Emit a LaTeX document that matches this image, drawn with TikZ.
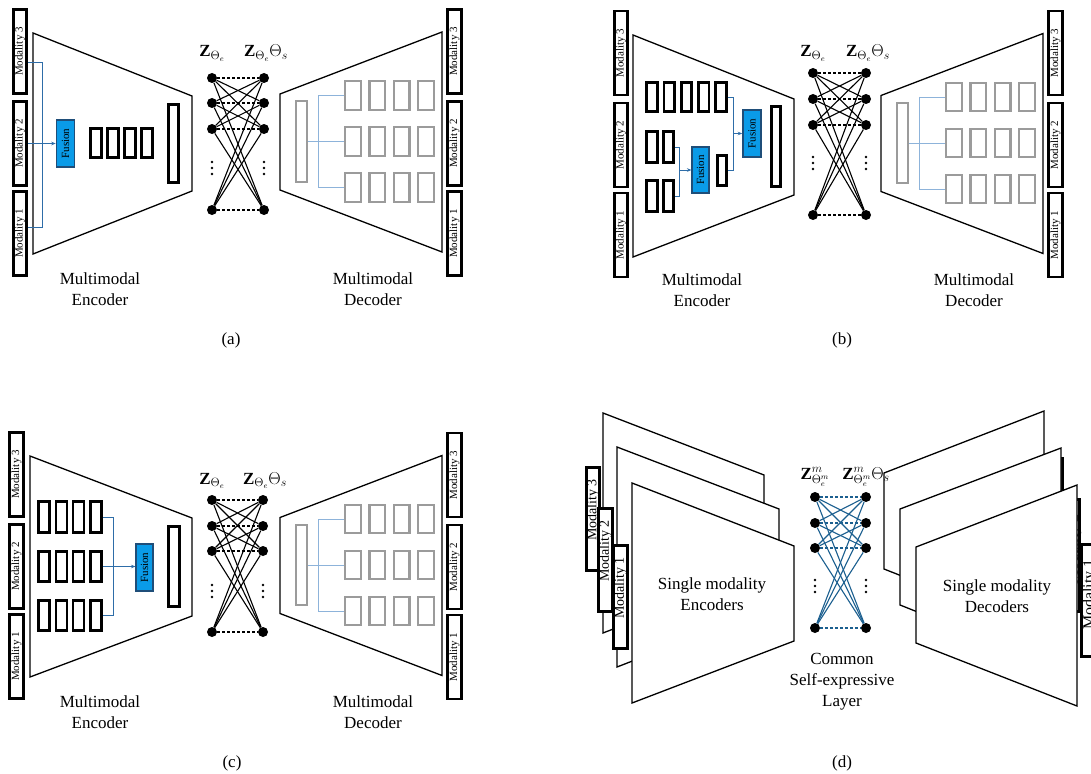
\documentclass[tikz,border=0pt]{standalone}
\usepackage{fontspec}
\setmainfont{Liberation Serif}
\usetikzlibrary{arrows.meta,calc}
\definecolor{fusefill}{HTML}{0A9BE8}
\definecolor{fusedraw}{HTML}{1F4E79}
\definecolor{linkc}{HTML}{2E6DA8}
\definecolor{linklt}{HTML}{8DB3DA}
\definecolor{grayb}{HTML}{9B9B9B}
\definecolor{netblue}{HTML}{1B5F8F}
\tikzset{
  modbox/.style={draw=black, line width=2.6pt, fill=white, inner sep=0pt, minimum width=13.5, minimum height=84},
  modtxt/.style={inner sep=0pt, rotate=90, font=\fontsize{11}{12}\selectfont},
  bbox/.style={draw=black, line width=2.6pt, inner sep=0pt, minimum width=10.5, minimum height=29.5},
  gbox/.style={draw=grayb, line width=2.4pt, inner sep=0pt, minimum width=15.5, minimum height=28.5},
  fusion/.style={draw=fusedraw, fill=fusefill, line width=1.6pt, inner sep=0pt, minimum width=18, minimum height=47},
  fustxt/.style={inner sep=0pt, rotate=90, font=\fontsize{11}{12}\selectfont},
  trap/.style={draw=black, line width=1.3pt, fill=white, line join=miter},
  linka/.style={draw=linkc, line width=0.9pt},
  linkb/.style={draw=linklt, line width=0.9pt},
  arr/.style={-{Stealth[length=4.5pt,width=3.5pt]}},
  nd/.style={circle, fill=black, inner sep=0pt, minimum size=10},
  captxt/.style={align=center, font=\fontsize{17}{21}\selectfont, inner sep=0pt},
  zl/.style={inner sep=0pt, anchor=base, font=\fontsize{17}{17}\selectfont},
  netline/.style={line width=1.1pt},
  netdash/.style={line width=1.1pt, dash pattern=on 3pt off 2pt},
}
% network: #1 prefix, #2 xL, #3 xR, #4-#7 rows, #8 colour, #9 dots centre
\newcommand\netw[9]{%
  \foreach \k/\yy in {1/#4,2/#5,3/#6,4/#7} {%
    \node[nd] (#1L\k) at (#2,\yy) {};
    \node[nd] (#1R\k) at (#3,\yy) {};
  }%
  \foreach \i in {1,...,4} {\foreach \j in {1,...,4} {%
    \ifnum\i=\j \draw[#8, netdash] (#1L\i) -- (#1R\j);
    \else \draw[#8, netline] (#1L\i) -- (#1R\j); \fi
  }}%
  \foreach \xx in {#2,#3} {\foreach \dy in {-6,0,6} {\fill (\xx,#9+\dy) circle (1.4);}}%
}
\newcommand\leftmods[1]{%
  \node[modbox] (#1lm3) at (20,51.5) {};  \node[modtxt] (#1lm3t) at (#1lm3) {Modality 3};
  \node[modbox] (#1lm2) at (20,143.5) {}; \node[modtxt] (#1lm2t) at (#1lm2) {Modality 2};
  \node[modbox] (#1lm1) at (20,233.5) {}; \node[modtxt] (#1lm1t) at (#1lm1) {Modality 1};
}
\newcommand\decoder[1]{%
  \draw[trap] (280,94) -- (442,32) -- (442,252) -- (280,190) -- cycle;
  \node[gbox, minimum width=10.5, minimum height=80.5] (#1gb) at (301.5,141.5) {};
  \foreach \r/\yy in {1/95.5,2/141.5,3/187.5} {\foreach \c/\xx in {1/353,2/377.3,3/401.6,4/426} {\node[gbox] (#1g\r\c) at (\xx,\yy) {};}}
  \coordinate (#1dj) at (318,141.5);
  \draw[linkb] (#1gb.east) -- (#1dj);
  \draw[linkb] (#1g11.west -| #1dj) -- (#1g31.west -| #1dj);
  \foreach \r in {1,2,3} {\draw[linkb] (#1g\r1.west -| #1dj) -- (#1g\r1.west);}
  \node[modbox] (#1rm3) at (454.5,51.5) {};  \node[modtxt] (#1rm3t) at (#1rm3) {Modality 3};
  \node[modbox] (#1rm2) at (454.5,143.5) {}; \node[modtxt] (#1rm2t) at (#1rm2) {Modality 2};
  \node[modbox] (#1rm1) at (454.5,233.5) {}; \node[modtxt] (#1rm1t) at (#1rm1) {Modality 1};
  \node[captxt] (#1declab) at (373,289) {Multimodal\\Decoder};
}
\begin{document}
\begin{tikzpicture}[x=1pt,y=-1pt]
\useasboundingbox (0,0) rectangle (1091,773);
\clip (0,0) rectangle (1091,773);
\fill[white] (0,0) rectangle (1091,773);

% ================= (a) =================
\draw[trap] (33,33) -- (192,96) -- (192,191) -- (33,254) -- cycle;
\leftmods{a}
\node[fusion] (af) at (65.5,143.5) {};
\node[fustxt] (aft) at (af) {Fusion};
\foreach \c/\xx in {1/96,2/113,3/130,4/147} {\node[bbox] (ab\c) at (\xx,143) {};}
\node[bbox, minimum height=78.5] (abar) at (173.5,143.5) {};
\coordinate (aj1) at (42,62);
\coordinate (aj2) at (42,227);
\draw[linka] (alm3.east |- aj1) -- (aj1) -- (aj2) -- (alm1.east |- aj2);
\draw[linka,arr] (alm2.east |- af.west) -- (af.west);
\node[captxt] (aenclab) at (100,289) {Multimodal\\Encoder};
\netw{a}{212}{264}{78}{103}{129}{210}{black}{168}
\node[zl] (aza) at (212,57) {$\mathbf{Z}_{\Theta_e}$};
\node[zl] (azb) at (266,57) {$\mathbf{Z}_{\Theta_e}\Theta_s$};
\decoder{a}
\node[captxt] (acap) at (231,340) {(a)};

% ================= (b) =================
\draw[trap] (633,35) -- (794,99) -- (794,195) -- (633,257) -- cycle;
\begin{scope}[shift={(601,1.5)}]
\leftmods{b}
\end{scope}
\foreach \c/\xx in {1/652,2/669.25,3/686.5,4/703.75,5/721} {\node[bbox] (bt\c) at (\xx,97) {};}
\node[bbox, minimum height=31.5] (bm1) at (652,147) {};
\node[bbox, minimum height=31.5] (bm2) at (668.5,147) {};
\node[bbox, minimum height=31.5] (bb1) at (652,196) {};
\node[bbox, minimum height=31.5] (bb2) at (668.5,196) {};
\node[fusion, minimum width=16.5, minimum height=46.5] (bf1) at (700.5,170) {};
\node[fustxt] (bf1t) at (bf1) {Fusion};
\node[bbox, minimum width=9.5, minimum height=30.5] (bsm) at (722,170.5) {};
\node[fusion, minimum width=18, minimum height=47] (bf2) at (752,133.5) {};
\node[fustxt] (bf2t) at (bf2) {Fusion};
\node[bbox, minimum width=9.5, minimum height=80.5] (bbar) at (776,146.5) {};
\coordinate (bj1) at (679,147);
\coordinate (bj2) at (679,196);
\draw[linka] (bm2.east) -- (bj1) -- (bj2) -- (bb2.east);
\draw[linka,arr] (bj1 |- bf1.west) -- (bf1.west);
\coordinate (bj3) at (733,97);
\coordinate (bj4) at (733,170.5);
\draw[linka] (bt5.east) -- (bj3) -- (bj4) -- (bsm.east);
\draw[linka,arr] (bj3 |- bf2.west) -- (bf2.west);
\node[captxt] (benclab) at (702,290.5) {Multimodal\\Encoder};
\netw{b}{813}{866}{73}{99}{125}{215}{black}{163}
\node[zl] (bza) at (813,57) {$\mathbf{Z}_{\Theta_e}$};
\node[zl] (bzb) at (868,57) {$\mathbf{Z}_{\Theta_e}\Theta_s$};
\begin{scope}[shift={(601,1.5)}]
\decoder{b}
\end{scope}
\node[captxt] (bcap) at (842,340) {(b)};

% ================= (c) =================
\draw[trap] (30,456) -- (192,518) -- (192,616) -- (30,677) -- cycle;
\begin{scope}[shift={(-3.5,423)}]
\leftmods{c}
\end{scope}
\foreach \r/\yy in {1/517,2/566.5,3/615.5} {\foreach \c/\xx in {1/44,2/61.3,3/78.6,4/96} {\node[bbox, minimum width=11, minimum height=30.5] (cg\r\c) at (\xx,\yy) {};}}
\node[fusion, minimum width=16.5, minimum height=46.5] (cf) at (144.5,567.5) {};
\node[fustxt] (cft) at (cf) {Fusion};
\node[bbox, minimum width=11, minimum height=80.5] (cbar) at (174,566.5) {};
\coordinate (cj1) at (113,517);
\coordinate (cj3) at (113,615.5);
\draw[linka] (cg14.east) -- (cj1) -- (cj3) -- (cg34.east);
\draw[linka,arr] (cg24.east) -- (cf.west |- cg24.east);
\node[captxt] (cenclab) at (100,712) {Multimodal\\Encoder};
\netw{c}{212}{263}{500}{526}{551}{632}{black}{591}
\node[zl] (cza) at (212,484) {$\mathbf{Z}_{\Theta_e}$};
\node[zl] (czb) at (265,484) {$\mathbf{Z}_{\Theta_e}\Theta_s$};
\begin{scope}[shift={(0,423.5)}]
\decoder{c}
\end{scope}
\node[captxt] (ccap) at (232,763) {(c)};

% ================= (d) =================
\tikzset{dmod/.style={modbox, minimum width=13.5, minimum height=103.5},
         dtxt/.style={modtxt, font=\fontsize{14}{14}\selectfont},
         drmod/.style={modbox, minimum width=14.5, minimum height=112.5},
         drtxt/.style={modtxt, font=\fontsize{16}{16}\selectfont}}
\draw[trap] (603,413) -- (764,475) -- (764,570) -- (603,633) -- cycle;
\node[dmod] (dm3) at (593,519) {};
\node[dtxt] (dm3t) at ($(dm3)+(0,-9)$) {Modality 3};
\draw[trap] (617,447) -- (779,509) -- (779,604) -- (617,667) -- cycle;
\node[dmod] (dm2) at (605.5,560) {};
\node[dtxt] (dm2t) at ($(dm2)+(0,-9)$) {Modality 2};
\draw[trap] (632,483) -- (794,546) -- (794,641) -- (632,703) -- cycle;
\node[dmod] (dm1) at (620.5,597) {};
\node[dtxt] (dm1t) at ($(dm1)+(0,-9)$) {Modality 1};
\node[captxt] (denclab) at (712,594) {Single modality\\Encoders};

\netw{d}{815}{866}{497}{523}{548}{628}{netblue}{586}
\node[captxt] (dlay) at (842,682) {Common\\Self-expressive\\Layer};

\draw[trap] (884,473) -- (1044,411) -- (1044,632) -- (884,569) -- cycle;
\node[drmod] (drm3) at (1055.5,514.5) {};
\node[drtxt] (drm3t) at ($(drm3)+(1.5,-6)$) {Modality 3};
\draw[trap] (900,509) -- (1061,448) -- (1061,669) -- (900,605) -- cycle;
\node[drmod] (drm2) at (1072.5,555.5) {};
\node[drtxt] (drm2t) at ($(drm2)+(1.5,-6)$) {Modality 2};
\draw[trap] (916,547) -- (1077,485) -- (1077,706) -- (916,643) -- cycle;
\node[drmod] (drm1) at (1088.5,600.5) {};
\node[drtxt] (drm1t) at ($(drm1)+(1.5,-6)$) {Modality 1};
\node[captxt] (ddeclab) at (997,596) {Single modality\\Decoders};
\node[zl] (dza) at (815,479) {$\mathbf{Z}^m_{\Theta^m_e}$};
\node[zl] (dzb) at (866,479) {$\mathbf{Z}^m_{\Theta^m_e}\Theta_s$};
\node[captxt] (dcap) at (842,763) {(d)};
\end{tikzpicture}
\end{document}
